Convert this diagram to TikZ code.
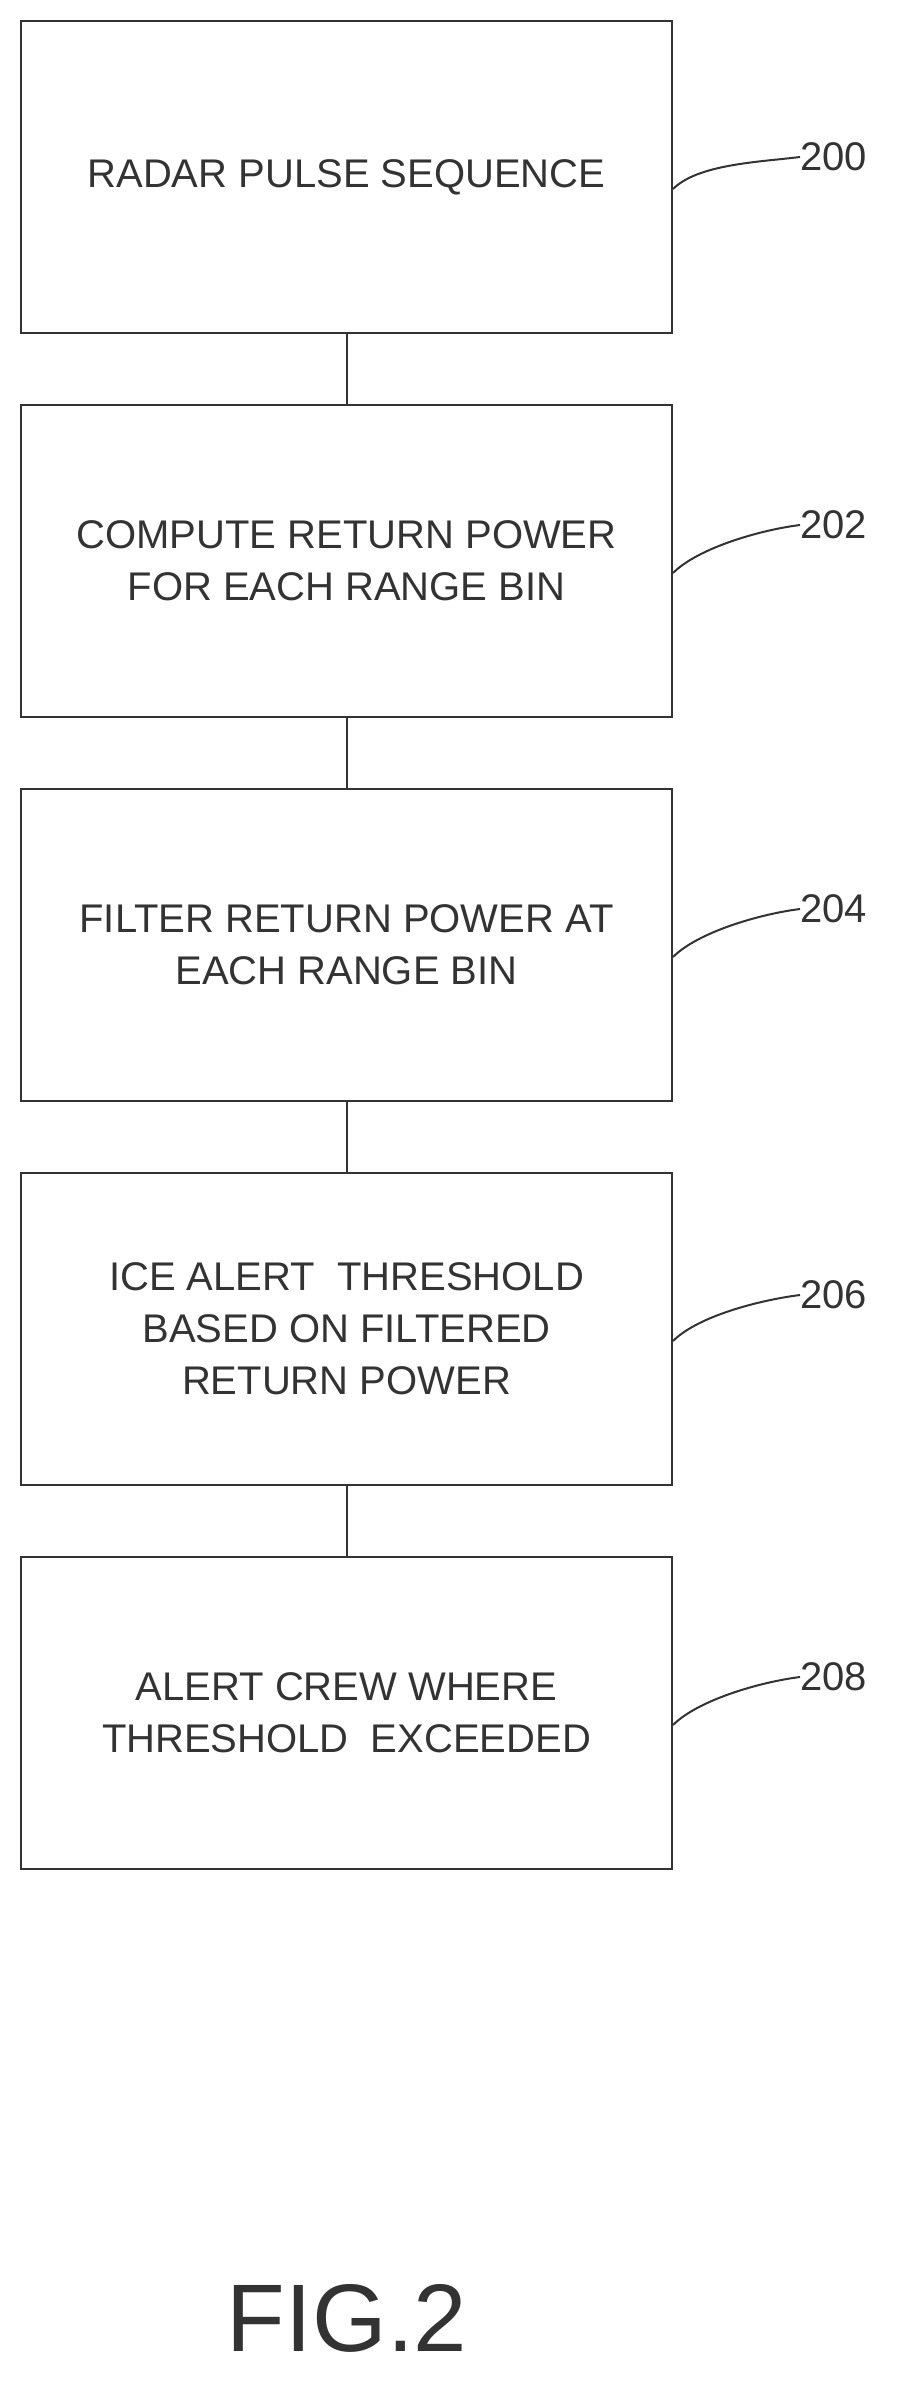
\documentclass[tikz,border=0pt]{standalone}
\usepackage{fontspec}
\setmainfont{Liberation Sans}
\begin{document}
\begin{tikzpicture}[x=1pt,y=-1pt,
  box/.style={draw=black!80,line width=2pt,minimum width=651pt,minimum height=312pt,align=center,font=\fontsize{40}{52}\selectfont,text=black!80,inner sep=0pt},
  lead/.style={draw=black!80,line width=2pt},
  lab/.style={font=\fontsize{40}{44}\selectfont,text=black!80,anchor=west,inner sep=0pt}]
\useasboundingbox (0,0) rectangle (900,2392);
\node[box] (b1) at (346.5,177) {RADAR PULSE SEQUENCE};
\node[box] (b2) at (346.5,561) {COMPUTE RETURN POWER\\FOR EACH RANGE BIN};
\node[box] (b3) at (346.5,945) {FILTER RETURN POWER AT\\EACH RANGE BIN};
\node[box] (b4) at (346.5,1329) {ICE ALERT\ \ THRESHOLD\\BASED ON FILTERED\\RETURN POWER};
\node[box] (b5) at (346.5,1713) {ALERT CREW WHERE\\THRESHOLD\ \ EXCEEDED};
\foreach \a/\b in {b1/b2,b2/b3,b3/b4,b4/b5} \draw[lead] (\a.south) -- (\b.north);
\foreach \n/\t/\y in {b1/200/157,b2/202/525,b3/204/909,b4/206/1295,b5/208/1677}{
  \node[lab] (l\t) at (800,\y) {\t};
  \draw[lead] ([yshift=-12pt]\n.east) .. controls +(25,-25) and +(-40,5) .. (l\t.west);
}
\node[font=\fontsize{96}{100}\selectfont,text=black!80] (fig) at (347,2318) {FIG.2};
\end{tikzpicture}
\end{document}
